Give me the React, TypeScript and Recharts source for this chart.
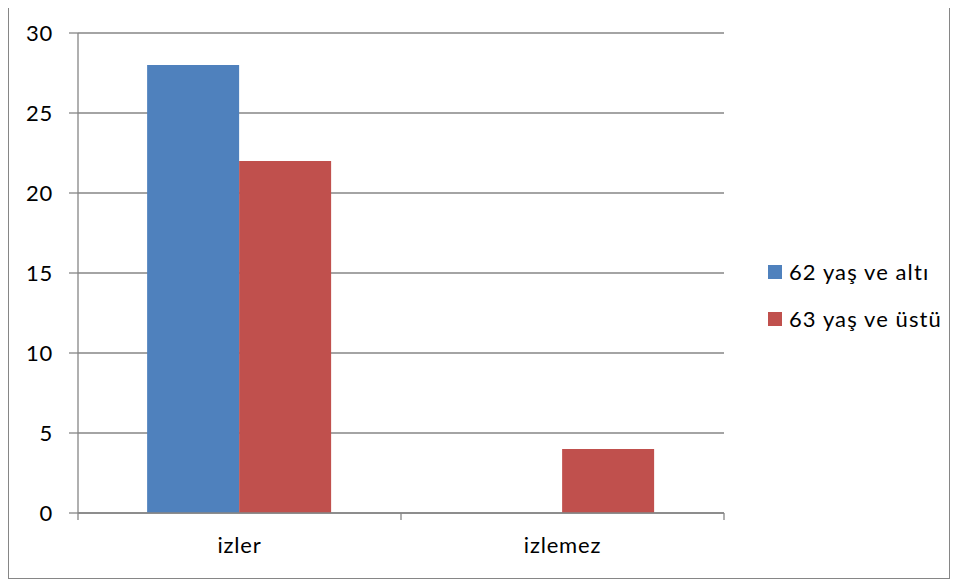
import React from "react";
import { BarChart, Bar, XAxis, YAxis, CartesianGrid } from "recharts";

const categories = ["izler", "izlemez"];
const seriesNames = ["62 yaş ve altı", "63 yaş ve üstü"];
const series62 = [28, 0];
const series63 = [22, 4];
const yTicks = [0, 5, 10, 15, 20, 25, 30];
const colors = ["#4F81BD", "#C0504D"];

const data = categories.map((c, i) => ({ name: c, s62: series62[i], s63: series63[i] }));

const FONT = "Lato, 'Open Sans', sans-serif";
const GRAY = "#868686";
const TICK_MARGIN = 24;
const EDGE_TICK = 7;

function CatTick(props: any) {
  const { x, y, payload, index, visibleTicksCount } = props;
  const half = payload && typeof payload.offset === "number" ? payload.offset : 0;
  const axisY = y - TICK_MARGIN;
  const last = index === (visibleTicksCount ?? categories.length) - 1;
  return (
    <g>
      {half > 0 && (
        <line x1={x - half} x2={x - half} y1={axisY} y2={axisY + EDGE_TICK} stroke={GRAY} strokeWidth={1.3} />
      )}
      {half > 0 && last && (
        <line x1={x + half} x2={x + half} y1={axisY} y2={axisY + EDGE_TICK} stroke={GRAY} strokeWidth={1.3} />
      )}
      <text
        x={x}
        y={y}
        dy="0.71em"
        textAnchor="middle"
        fill="#000"
        fontSize={22}
        fontFamily={FONT}
        letterSpacing={0.8}
      >
        {payload.value}
      </text>
    </g>
  );
}

export default function App() {
  return (
    <div
      style={{
        position: "relative",
        width: 942,
        height: 575,
        marginTop: -4,
        border: `1px solid ${GRAY}`,
        boxSizing: "border-box",
        background: "#fff",
        fontFamily: FONT,
      }}
    >
      <BarChart
        width={940}
        height={573}
        data={data}
        margin={{ top: 28, right: 225, bottom: 64, left: 9 }}
        barCategoryGap="21.4%"
        barGap={0}
      >
        <CartesianGrid vertical={false} stroke={GRAY} strokeWidth={1.3} />
        <XAxis
          dataKey="name"
          height={1}
          tickLine={false}
          tickSize={0}
          tickMargin={TICK_MARGIN}
          axisLine={{ stroke: GRAY, strokeWidth: 1.3 }}
          tick={<CatTick />}
          interval={0}
        />
        <YAxis
          width={60}
          domain={[0, 30]}
          ticks={yTicks}
          interval={0}
          tickSize={9}
          tickMargin={16}
          axisLine={{ stroke: GRAY, strokeWidth: 1.3 }}
          tickLine={{ stroke: GRAY, strokeWidth: 1.3 }}
          tick={{ fill: "#000", fontSize: 22, fontFamily: FONT, letterSpacing: 0.8 }}
        />
        <Bar dataKey="s62" name={seriesNames[0]} fill={colors[0]} isAnimationActive={false} />
        <Bar dataKey="s63" name={seriesNames[1]} fill={colors[1]} isAnimationActive={false} />
      </BarChart>
      <div style={{ position: "absolute", left: 759, top: 243, fontFamily: FONT }}>
        {seriesNames.map((n, i) => (
          <div key={n} style={{ display: "flex", alignItems: "center", height: 47 }}>
            <div style={{ width: 14, height: 14, background: colors[i], marginRight: 7 }} />
            <span style={{ fontSize: 22, letterSpacing: 1.1, color: "#000", whiteSpace: "nowrap" }}>{n}</span>
          </div>
        ))}
      </div>
    </div>
  );
}
